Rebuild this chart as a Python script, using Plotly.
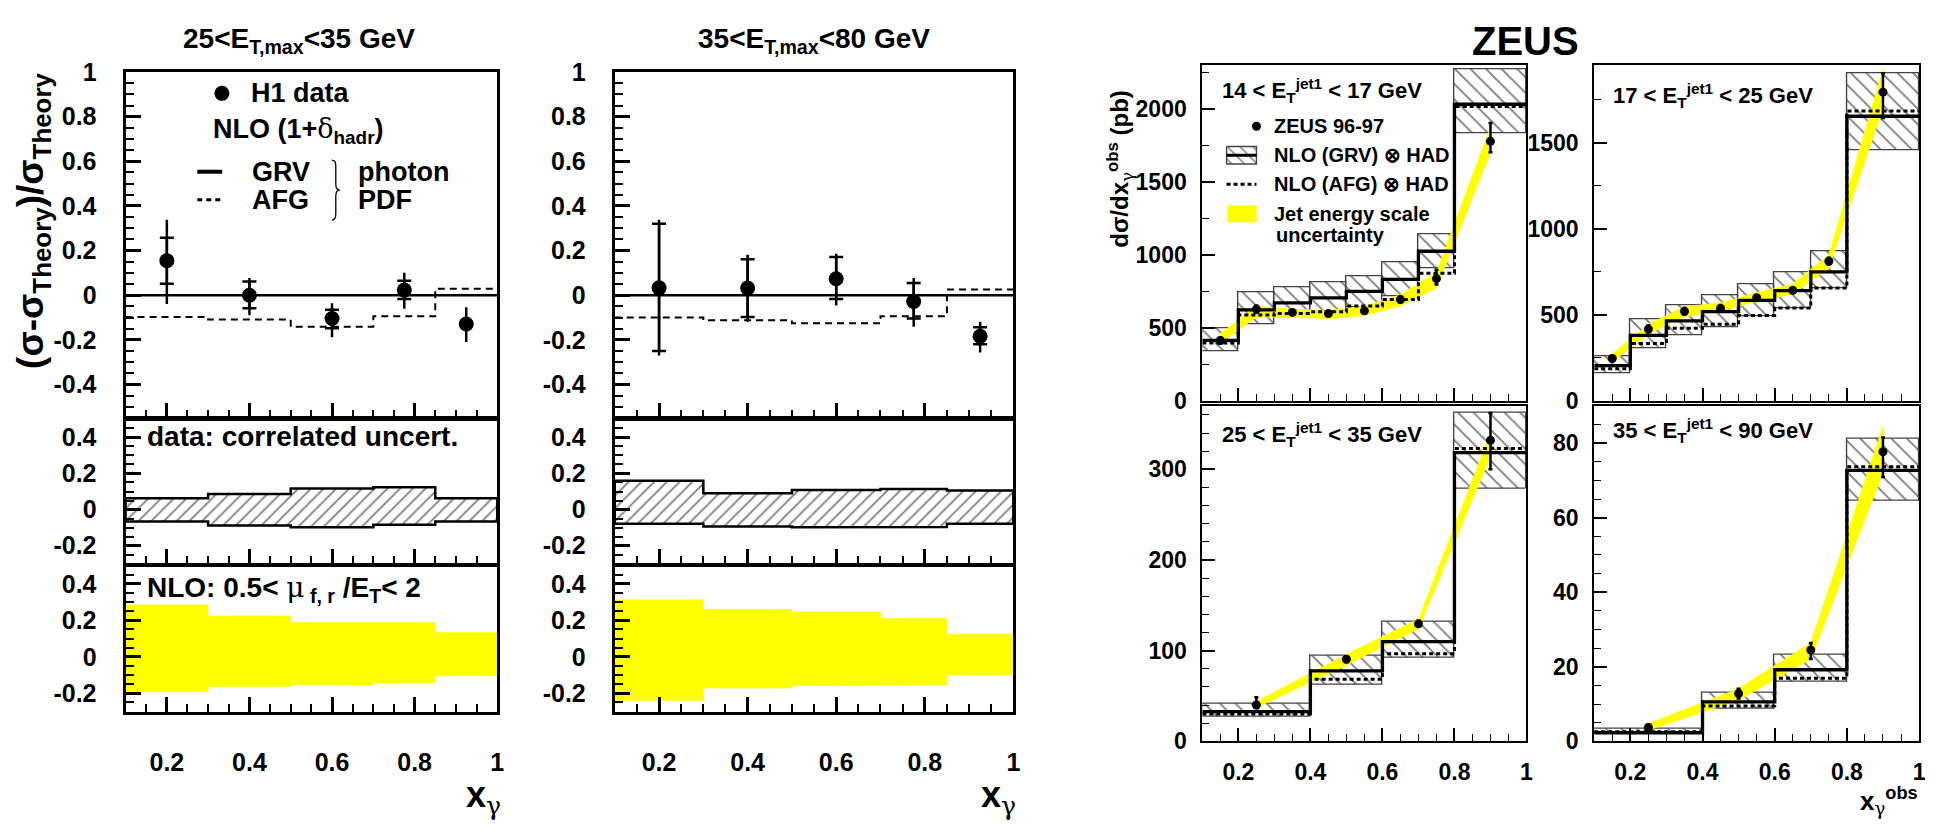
import plotly.graph_objects as go

W, H = 1945, 833
FONT = "Liberation Sans, Arial, Helvetica, sans-serif"
YEL = "#FFFF00"
SYM = "<span style=\"font-family:'DejaVu Serif';font-weight:normal\">{}</span>"

# ---------------- H1 data ----------------
h1_edges = [0.1, 0.3, 0.5, 0.7, 0.85, 1.0]
h1_x = [0.2, 0.4, 0.6, 0.775, 0.925]
h1_xticks = [0.2, 0.4, 0.6, 0.8, 1.0]
h1_xticktext = ["0.2", "0.4", "0.6", "0.8", "1"]

# 25 < ET,max < 35 GeV
h1a_y = [0.155, 0.0, -0.104, 0.023, -0.129]
h1a_stat_p = [0.103, 0.062, 0.039, 0.042, 0.0]
h1a_stat_m = [0.104, 0.058, 0.044, 0.040, 0.0]
h1a_tot_p = [0.183, 0.077, 0.068, 0.078, 0.075]
h1a_tot_m = [0.194, 0.090, 0.084, 0.084, 0.081]
h1a_grv = [0.0, 0.0, 0.0, 0.0, 0.0]
h1a_afg = [-0.097, -0.109, -0.141, -0.094, 0.029]
h1a_corr_hi = [0.063, 0.086, 0.117, 0.123, 0.063]
h1a_corr_lo = [-0.067, -0.088, -0.099, -0.085, -0.067]
h1a_scale_hi = [0.285, 0.224, 0.188, 0.188, 0.133]
h1a_scale_lo = [-0.19, -0.163, -0.153, -0.142, -0.104]

# 35 < ET,max < 80 GeV
h1b_y = [0.033, 0.032, 0.074, -0.028, -0.184]
h1b_stat_p = [0.287, 0.129, 0.097, 0.083, 0.041]
h1b_stat_m = [0.283, 0.129, 0.091, 0.076, 0.036]
h1b_tot_p = [0.305, 0.149, 0.112, 0.105, 0.065]
h1b_tot_m = [0.303, 0.151, 0.120, 0.113, 0.073]
h1b_grv = [0.0, 0.0, 0.0, 0.0, 0.0]
h1b_afg = [-0.1, -0.112, -0.126, -0.094, 0.026]
h1b_corr_hi = [0.159, 0.09, 0.108, 0.114, 0.105]
h1b_corr_lo = [-0.079, -0.094, -0.099, -0.097, -0.079]
h1b_scale_hi = [0.312, 0.26, 0.246, 0.21, 0.124]
h1b_scale_lo = [-0.239, -0.171, -0.158, -0.154, -0.1]

# ---------------- ZEUS data ----------------
z_edges_lo = [0.1, 0.2, 0.3, 0.4, 0.5, 0.6, 0.7, 0.8, 1.0]
z_x_lo = [0.15, 0.25, 0.35, 0.45, 0.55, 0.65, 0.75, 0.9]
z_edges_hi = [0.1, 0.4, 0.6, 0.8, 1.0]
z_x_hi = [0.25, 0.5, 0.7, 0.9]
z_xticks = [0.2, 0.4, 0.6, 0.8, 1.0]
z_xticktext = ["0.2", "0.4", "0.6", "0.8", "1"]

# 14 < ET < 17 GeV
z1_data = [415, 629, 607, 600, 618, 695, 839, 1779]
z1_err_p = [20, 25, 15, 15, 15, 20, 60, 126]
z1_err_m = [20, 25, 15, 15, 15, 20, 40, 75]
z1_grv = [415, 625, 673, 706, 751, 834, 1026, 2033]
z1_grv_hi = [501, 744, 779, 812, 857, 949, 1143, 2276]
z1_grv_lo = [338, 525, 575, 600, 645, 717, 912, 1834]
z1_afg = [397, 589, 600, 611, 651, 695, 876, 2018]
z1_jes_lo = [397, 574, 574, 563, 585, 651, 773, 1700]
z1_jes_hi = [463, 651, 629, 622, 651, 728, 883, 1880]

# 17 < ET < 25 GeV
z2_data = [247, 418, 521, 538, 600, 643, 812, 1794]
z2_err_p = [15, 20, 20, 20, 15, 15, 20, 110]
z2_err_m = [15, 20, 20, 20, 15, 15, 20, 150]
z2_grv = [206, 381, 465, 519, 585, 641, 750, 1654]
z2_grv_hi = [262, 472, 559, 615, 679, 750, 872, 1903]
z2_grv_lo = [159, 304, 384, 431, 493, 540, 652, 1457]
z2_afg = [187, 334, 422, 446, 497, 540, 656, 1684]
z2_jes_lo = [225, 390, 490, 520, 580, 620, 770, 1700]
z2_jes_hi = [275, 445, 550, 570, 630, 680, 850, 1930]

# 25 < ET < 35 GeV
z3_data = [40.1, 90.5, 129.6, 332]
z3_err_p = [8.5, 3, 3, 30]
z3_err_m = [3, 3, 3, 32]
z3_grv = [32.7, 77.7, 110, 318.4]
z3_grv_hi = [41.5, 94, 132, 362.8]
z3_grv_lo = [26.6, 62.8, 92.3, 278.7]
z3_afg = [30.2, 68.5, 96.6, 323]
z3_jes_lo = [37, 84, 124, 314]
z3_jes_hi = [44, 96, 135, 340]

# 35 < ET < 90 GeV
z4_data = [3.7, 12.8, 24.5, 77.7]
z4_err_p = [0.8, 1.3, 1.9, 3.8]
z4_err_m = [0.8, 1.3, 2.4, 6.8]
z4_grv = [2.3, 10.6, 19.2, 72.7]
z4_grv_hi = [3.3, 13.1, 23.1, 81.1]
z4_grv_lo = [2.0, 8.8, 16.0, 64.4]
z4_afg = [2.6, 9.5, 16.9, 73.7]
z4_jes_lo = [3.0, 11.0, 22.0, 72.0]
z4_jes_hi = [4.8, 14.2, 26.5, 84.5]


# ---------------- helpers ----------------
def dom_x(a, b):
    return [a / W, b / W]


def dom_y(top, bottom):
    return [1 - bottom / H, 1 - top / H]


def step_xy(edges, vals):
    return list(edges), list(vals) + [vals[-1]]


def band_poly(edges, lo, hi):
    xs, ys = [], []
    for i in range(len(hi)):
        xs += [edges[i], edges[i + 1]]
        ys += [hi[i], hi[i]]
    for i in reversed(range(len(lo))):
        xs += [edges[i + 1], edges[i]]
        ys += [lo[i], lo[i]]
    xs.append(xs[0])
    ys.append(ys[0])
    return xs, ys


def ak(i):
    return ("x" if i == 1 else f"x{i}"), ("y" if i == 1 else f"y{i}")


fig = go.Figure()
layout = {}


def set_axes(i, xdom, ydom, yrange, yticks, yticktext, yminor, xshowlabels,
             xticks, xticktext, style, xstand, ystand):
    if style == "h1":
        lw, tw, tl, mtl, mtw, fs = 3, 2.5, 15, 8, 2, 25
    else:
        lw, tw, tl, mtl, mtw, fs = 2, 1.5, 13, 7, 1.3, 23
    xname = "xaxis" if i == 1 else f"xaxis{i}"
    yname = "yaxis" if i == 1 else f"yaxis{i}"
    xa, ya = ak(i)
    tf = dict(family=FONT, size=fs, color="black", weight="bold")
    layout[xname] = dict(
        domain=xdom, range=[0.1, 1.0], anchor=ya, showline=True, linecolor="black",
        linewidth=lw, mirror=True, ticks="inside", ticklen=tl, tickwidth=tw,
        tickcolor="black", tickmode="array", tickvals=xticks, ticktext=xticktext,
        showticklabels=xshowlabels, tickfont=tf, showgrid=False, zeroline=False,
        ticklabelstandoff=xstand,
        minor=dict(ticks="inside", dtick=0.05, tick0=0, ticklen=mtl, tickwidth=mtw,
                   tickcolor="black", showgrid=False),
    )
    layout[yname] = dict(
        domain=ydom, range=yrange, anchor=xa, showline=True, linecolor="black",
        linewidth=lw, mirror=True, ticks="inside", ticklen=tl, tickwidth=tw,
        tickcolor="black", tickmode="array", tickvals=yticks, ticktext=yticktext,
        tickfont=tf, showgrid=False, zeroline=False, ticklabelstandoff=ystand,
        minor=dict(ticks="inside", dtick=yminor, tick0=0, ticklen=mtl, tickwidth=mtw,
                   tickcolor="black", showgrid=False),
    )


# ---------------- H1 panels ----------------
h1_cols = [(126, 499), (617, 1017)]
h1_rows = [(60, 417.5), (419, 568), (570, 721)]
top_ticks = [-0.4, -0.2, 0, 0.2, 0.4, 0.6, 0.8, 1.0]
top_text = ["-0.4", "-0.2", "0", "0.2", "0.4", "0.6", "0.8", "1"]
sub_ticks = [-0.2, 0, 0.2, 0.4]
sub_text = ["-0.2", "0", "0.2", "0.4"]

h1_sets = [
    (h1a_y, h1a_stat_p, h1a_stat_m, h1a_tot_p, h1a_tot_m, h1a_grv, h1a_afg,
     h1a_corr_lo, h1a_corr_hi, h1a_scale_lo, h1a_scale_hi),
    (h1b_y, h1b_stat_p, h1b_stat_m, h1b_tot_p, h1b_tot_m, h1b_grv, h1b_afg,
     h1b_corr_lo, h1b_corr_hi, h1b_scale_lo, h1b_scale_hi),
]

for c, (x0, x1) in enumerate(h1_cols):
    (yv, sp, sm, tp, tm, grv, afg, clo, chi, slo, shi) = h1_sets[c]
    i_top, i_mid, i_bot = 1 + 3 * c, 2 + 3 * c, 3 + 3 * c
    set_axes(i_top, dom_x(x0, x1), dom_y(*h1_rows[0]), [-0.55, 1.0], top_ticks, top_text,
             0.05, False, h1_xticks, h1_xticktext, "h1", 28, 21)
    set_axes(i_mid, dom_x(x0, x1), dom_y(*h1_rows[1]), [-0.3, 0.5], sub_ticks, sub_text,
             0.05, False, h1_xticks, h1_xticktext, "h1", 28, 21)
    set_axes(i_bot, dom_x(x0, x1), dom_y(*h1_rows[2]), [-0.3, 0.5], sub_ticks, sub_text,
             0.05, True, h1_xticks, h1_xticktext, "h1", 26, 21)

    # top panel
    xa, ya = ak(i_top)
    sx, sy = step_xy(h1_edges, grv)
    fig.add_trace(go.Scatter(x=sx, y=sy, mode="lines", line=dict(color="black", width=2.5, shape="hv"),
                             xaxis=xa, yaxis=ya, showlegend=False))
    sx, sy = step_xy(h1_edges, afg)
    fig.add_trace(go.Scatter(x=sx, y=sy, mode="lines",
                             line=dict(color="black", width=2, shape="hv", dash="7px,5px"),
                             xaxis=xa, yaxis=ya, showlegend=False))
    fig.add_trace(go.Scatter(x=h1_x, y=yv, mode="markers",
                             marker=dict(size=15, color="black"),
                             error_y=dict(type="data", symmetric=False, array=tp, arrayminus=tm,
                                          color="black", thickness=2.5, width=0),
                             xaxis=xa, yaxis=ya, showlegend=False))
    fig.add_trace(go.Scatter(x=h1_x, y=yv, mode="markers",
                             marker=dict(size=2, color="black"),
                             error_y=dict(type="data", symmetric=False, array=sp, arrayminus=sm,
                                          color="black", thickness=2.5, width=7),
                             xaxis=xa, yaxis=ya, showlegend=False))

    # middle: correlated uncertainty (hatched)
    xa, ya = ak(i_mid)
    px, py = band_poly(h1_edges, clo, chi)
    fig.add_trace(go.Scatter(x=px, y=py, mode="lines", fill="toself",
                             line=dict(color="black", width=2.5),
                             fillcolor="white",
                             fillpattern=dict(shape="/", fgcolor="black", bgcolor="white",
                                              size=9, solidity=0.2),
                             xaxis=xa, yaxis=ya, showlegend=False))

    # bottom: scale uncertainty (yellow)
    xa, ya = ak(i_bot)
    px, py = band_poly(h1_edges, slo, shi)
    fig.add_trace(go.Scatter(x=px, y=py, mode="lines", fill="toself",
                             line=dict(color=YEL, width=0.5), fillcolor=YEL,
                             xaxis=xa, yaxis=ya, showlegend=False))

# ---------------- ZEUS panels ----------------
z_cols = [(1206.7, 1532), (1600, 1926)]
z_rows = [(53, 400), (405, 751.7)]
z_sets = [
    (7, 0, 0, z_edges_lo, z_x_lo, z1_data, z1_err_p, z1_err_m, z1_grv, z1_grv_lo, z1_grv_hi,
     z1_afg, z1_jes_lo, z1_jes_hi, [0, 2300], [0, 500, 1000, 1500, 2000], 250),
    (8, 1, 0, z_edges_lo, z_x_lo, z2_data, z2_err_p, z2_err_m, z2_grv, z2_grv_lo, z2_grv_hi,
     z2_afg, z2_jes_lo, z2_jes_hi, [0, 1950], [0, 500, 1000, 1500], 250),
    (9, 0, 1, z_edges_hi, z_x_hi, z3_data, z3_err_p, z3_err_m, z3_grv, z3_grv_lo, z3_grv_hi,
     z3_afg, z3_jes_lo, z3_jes_hi, [0, 370], [0, 100, 200, 300], 20),
    (10, 1, 1, z_edges_hi, z_x_hi, z4_data, z4_err_p, z4_err_m, z4_grv, z4_grv_lo, z4_grv_hi,
     z4_afg, z4_jes_lo, z4_jes_hi, [0, 90], [0, 20, 40, 60, 80], 5),
]

for (i, c, r, edges, xc, data, ep, em, grv, glo, ghi, afg, jlo, jhi, yr, yt, ymin) in z_sets:
    set_axes(i, dom_x(*z_cols[c]), dom_y(*z_rows[r]), yr, yt, [str(v) for v in yt], ymin,
             r == 1, z_xticks, z_xticktext, "zeus", 9, 9)
    xa, ya = ak(i)
    widths = [edges[k + 1] - edges[k] for k in range(len(edges) - 1)]
    centers = [(edges[k + 1] + edges[k]) / 2 for k in range(len(edges) - 1)]
    fig.add_trace(go.Bar(x=centers, y=[h - l for h, l in zip(ghi, glo)], base=glo, width=widths,
                         marker=dict(color="rgba(255,255,255,0)",
                                     line=dict(color="#444444", width=1.4),
                                     pattern=dict(shape="\\", fgcolor="black",
                                                  bgcolor="rgba(255,255,255,0)",
                                                  size=11, solidity=0.17)),
                         xaxis=xa, yaxis=ya, showlegend=False))
    fig.add_trace(go.Scatter(x=list(xc) + list(xc)[::-1], y=list(jhi) + list(jlo)[::-1],
                             mode="lines", fill="toself", fillcolor=YEL,
                             line=dict(color=YEL, width=0.5),
                             xaxis=xa, yaxis=ya, showlegend=False))
    sx, sy = step_xy(edges, afg)
    fig.add_trace(go.Scatter(x=sx, y=sy, mode="lines",
                             line=dict(color="black", width=3, shape="hv", dash="4px,3px"),
                             xaxis=xa, yaxis=ya, showlegend=False))
    sx, sy = step_xy(edges, grv)
    fig.add_trace(go.Scatter(x=sx, y=sy, mode="lines",
                             line=dict(color="black", width=3.3, shape="hv"),
                             xaxis=xa, yaxis=ya, showlegend=False))
    fig.add_trace(go.Scatter(x=xc, y=data, mode="markers", marker=dict(size=9, color="black"),
                             error_y=dict(type="data", symmetric=False, array=ep, arrayminus=em,
                                          color="black", thickness=2.5, width=2),
                             xaxis=xa, yaxis=ya, showlegend=False))

# ---------------- overlay (pixel) axis for legends / text ----------------
layout["xaxis11"] = dict(domain=[0, 1], range=[0, W], visible=False, fixedrange=True,
                         anchor="y11")
layout["yaxis11"] = dict(domain=[0, 1], range=[H, 0], visible=False, fixedrange=True,
                         anchor="x11")
OX, OY = "x11", "y11"

# H1 legend symbols
fig.add_trace(go.Scatter(x=[222.7], y=[82], mode="markers", marker=dict(size=15, color="black"),
                         xaxis=OX, yaxis=OY, showlegend=False))
fig.add_trace(go.Scatter(x=[198, 223], y=[163, 163], mode="lines",
                         line=dict(color="black", width=4), xaxis=OX, yaxis=OY, showlegend=False))
fig.add_trace(go.Scatter(x=[198, 223], y=[192, 192], mode="lines",
                         line=dict(color="black", width=3, dash="5px,4px"),
                         xaxis=OX, yaxis=OY, showlegend=False))

# ZEUS legend symbols
fig.add_trace(go.Scatter(x=[1261], y=[116], mode="markers", marker=dict(size=9, color="black"),
                         xaxis=OX, yaxis=OY, showlegend=False))
fig.add_trace(go.Scatter(x=[1231, 1261, 1261, 1231, 1231], y=[137, 137, 155, 155, 137],
                         mode="lines", fill="toself", fillcolor="white",
                         line=dict(color="#444444", width=1.4),
                         fillpattern=dict(shape="\\", fgcolor="black", bgcolor="white",
                                          size=9, solidity=0.17),
                         xaxis=OX, yaxis=OY, showlegend=False))
fig.add_trace(go.Scatter(x=[1231, 1261], y=[146, 146], mode="lines",
                         line=dict(color="black", width=3), xaxis=OX, yaxis=OY, showlegend=False))
fig.add_trace(go.Scatter(x=[1231, 1261], y=[176, 176], mode="lines",
                         line=dict(color="black", width=3, dash="4px,3px"),
                         xaxis=OX, yaxis=OY, showlegend=False))
fig.add_trace(go.Scatter(x=[1232, 1261, 1261, 1232, 1232], y=[198, 198, 215, 215, 198],
                         mode="lines", fill="toself", fillcolor=YEL, line=dict(color=YEL, width=0.5),
                         xaxis=OX, yaxis=OY, showlegend=False))

# brace "}" for photon PDF
brace = ("M 333,151 Q 337,151 337,157 L 337,176 Q 337,182 341,182 "
         "Q 337,182 337,188 L 337,207 Q 337,213 333,213")
shapes = [dict(type="path", path=brace, xref=OX, yref=OY, line=dict(color="black", width=1.3))]

annotations = []


def txt(text, x, y, size, xanchor="left", angle=0, weight="bold"):
    annotations.append(dict(text=text, x=x, y=y, xref=OX, yref=OY, showarrow=False,
                            xanchor=xanchor, yanchor="middle", textangle=angle,
                            font=dict(family=FONT, size=size, color="black", weight=weight)))


g = SYM.format("γ")
# H1 texts
txt("25<E<sub>T,max</sub><35 GeV", 300, 27, 28, "center")
txt("35<E<sub>T,max</sub><80 GeV", 817, 27, 28, "center")
txt("(σ-σ<sub>Theory</sub>)/σ<sub>Theory</sub>", 33, 214, 37, "center", -90)
txt("H1 data", 250, 82, 27)
txt("NLO (1+" + SYM.format("δ") + "<sub>hadr</sub>)", 212, 120, 27)
txt("GRV", 251, 163, 27)
txt("AFG", 251, 192, 27)
txt("photon", 357, 163, 27)
txt("PDF", 357, 192, 27)
txt("data: correlated uncert.", 146, 437, 28)
txt("NLO: 0.5< " + SYM.format("μ") + "<sub> f, r</sub> /E<sub>T</sub>< 2", 146, 594, 28)
txt("x<sub>" + g + "</sub>", 485, 810, 36, "center")
txt("x<sub>" + g + "</sub>", 1002, 810, 36, "center")

# ZEUS texts
txt("ZEUS", 1531, 28, 40, "center")
txt("dσ/dx<sub>" + g + "</sub><sup>obs</sup> (pb)", 1124, 160, 24, "center", -90)
txt("x<sub>" + g + "</sub><sup>obs</sup>", 1896, 813, 26, "center")
txt("14 < E<sub>T</sub><sup>jet1</sup> < 17 GeV", 1224, 79, 22)
txt("17 < E<sub>T</sub><sup>jet1</sup> < 25 GeV", 1617, 84, 22)
txt("25 < E<sub>T</sub><sup>jet1</sup> < 35 GeV", 1224, 435, 22)
txt("35 < E<sub>T</sub><sup>jet1</sup> < 90 GeV", 1617, 430, 22)
txt("ZEUS 96-97", 1277, 116, 20)
txt("NLO (GRV) ⊗ HAD", 1277, 146, 20)
txt("NLO (AFG) ⊗ HAD", 1277, 176, 20)
txt("Jet energy scale", 1277, 207, 20)
txt("uncertainty", 1279, 228, 20)

layout.update(dict(
    width=W, height=H, margin=dict(l=0, r=0, t=0, b=0, pad=0),
    paper_bgcolor="white", plot_bgcolor="rgba(0,0,0,0)",
    barmode="overlay", bargap=0, showlegend=False,
    font=dict(family=FONT, color="black"),
    annotations=annotations, shapes=shapes,
))
fig.update_layout(**layout)

fig.write_html("out.html", config={"displayModeBar": False},
               post_script="document.body.style.margin='0';document.body.style.overflow='hidden';")
